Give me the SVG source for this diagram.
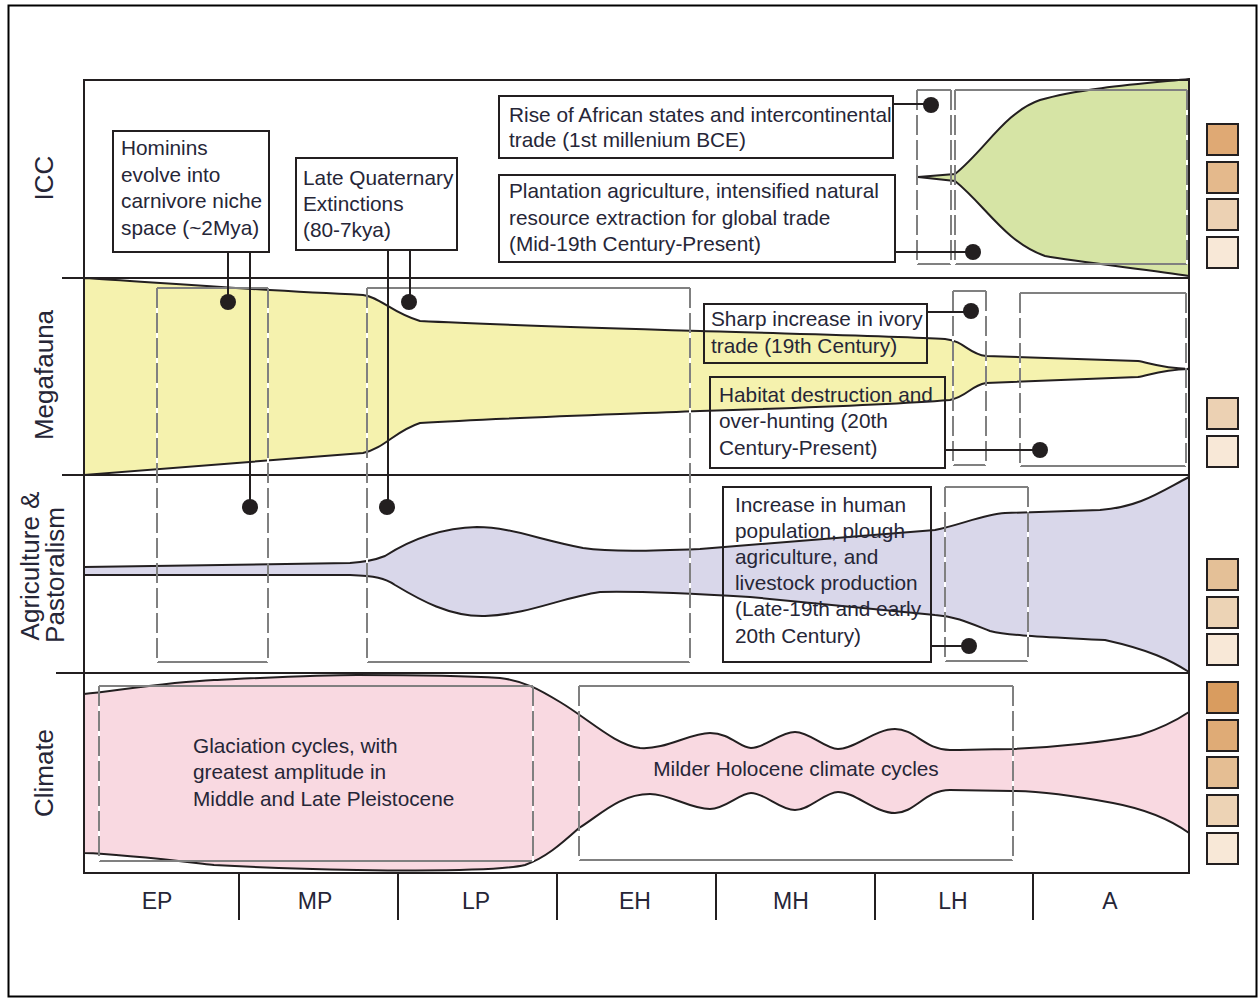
<svg xmlns="http://www.w3.org/2000/svg" width="1259" height="999" viewBox="0 0 1259 999">
<style>
.ax{stroke:#231f20;stroke-width:2;fill:none}
.shape{stroke:#231f20;stroke-width:2}
.bs{stroke:#808080;stroke-width:2;fill:none}
.bw{stroke:#ffffff;stroke-width:2;fill:none}
.bd{stroke:#808080;stroke-width:2;fill:none;stroke-dasharray:20 5}
.cb{fill:none;stroke:#231f20;stroke-width:2}
.cl{stroke:#231f20;stroke-width:2;fill:none}
.dot{fill:#231f20}
.sw{stroke:#231f20;stroke-width:2}
text{font-family:"Liberation Sans",Arial,sans-serif;fill:#262637}
.t{font-size:20.8px}
.rl{font-size:26px;text-anchor:middle}
.axl{font-size:23px;text-anchor:middle}
</style>
<rect x="0" y="0" width="1259" height="999" fill="#ffffff"/>
<rect x="8.5" y="5.5" width="1248" height="991" fill="none" stroke="#000" stroke-width="2"/>

<g id="shapes">
<path id="icc-shape" class="shape" fill="#d6e4a5" d="M918,177 L955,174 C985,150 1005,112 1040,100 C1080,88 1150,83 1189,79 L1189,276 C1150,270 1080,262 1045,256 C1005,242 985,205 955,181 Z"/>
<path id="mega-shape" class="shape" fill="#f5f2ae" d="M84,278 C150,282 250,290 363,295 C380,297 392,313 420,321 C500,325 600,328 700,331 C800,334 900,336 945,339 C965,341 968,354 986,356 L1138,361 C1150,363 1160,368 1189,369 C1160,370 1150,375 1138,377 L986,383 C970,386 968,396 950,400 C900,404 800,408 700,411 C600,415 500,418 420,423 C395,431 385,448 363,453 C250,462 150,470 84,475 Z"/>
<path id="agri-shape" class="shape" fill="#d9d7ea" d="M84,567 L350,563 C365,562 375,560 385,556 C410,540 440,528 477,527 C510,527 540,540 583,548 C610,552 650,551 700,549 L935,530 C960,525 985,514 1005,513 L1100,510 C1140,507 1160,492 1189,477 L1189,672 C1170,660 1150,650 1105,640 C1050,637 1010,636 990,631 C970,623 955,616 935,615 L750,597 C700,594 640,591 600,592 C560,598 530,614 485,616 C450,617 420,600 395,585 C385,578 375,576 350,575 L84,575 Z"/>
<path id="climate-shape" class="shape" fill="#f9d9e1" d="M84,694 C120,690 170,682 214,680 C280,677 320,675 357,675 C420,675 470,676 500,678 C525,681 540,690 560,702 C590,720 615,745 640,748 C665,750 690,733 710,733 C730,733 740,748 751,748 C765,748 780,732 795,732 C810,732 825,749 838,749 C855,749 875,729 895,729 C915,729 925,750 950,750 C980,750 1000,749 1012,749 C1060,747 1113,741 1140,735 C1165,727 1180,718 1189,712 L1189,833 C1175,823 1150,810 1113,803 C1070,795 1040,791 1012,791 L950,790 C925,790 915,813 895,813 C875,813 855,792 838,792 C825,792 810,810 795,810 C780,810 765,793 751,793 C740,793 725,809 710,809 C690,809 670,794 650,794 C620,794 600,815 579,828 C560,845 545,858 525,865 C500,871 420,871 357,870 C300,869 250,867 214,865 C170,860 120,854 84,853 Z"/>
</g>

<g id="frame">
<path class="ax" d="M84,80 H1189 V873 H84 Z"/>
<path class="ax" d="M62,278 H1189 M62,475 H1189 M56,673 H1189"/>
<path class="ax" d="M239,873 V920 M398,873 V920 M557,873 V920 M716,873 V920 M875,873 V920 M1033,873 V920"/>
</g>

<g id="dashed-boxes">
<g id="box-icc1"><path class="bs" d="M917,90 H951 M917,264 H951"/><path class="bw" d="M917,90 V264 M951,90 V264"/><path class="bd" d="M917,90 V264 M951,90 V264"/></g>
<g id="box-icc2"><path class="bs" d="M955,90 H1187 M955,264 H1187"/><path class="bw" d="M955,90 V264 M1187,90 V264"/><path class="bd" d="M955,90 V264 M1187,90 V264"/></g>
<g id="box-megA"><path class="bs" d="M157,288 H268 M157,662 H268"/><path class="bw" d="M157,288 V662 M268,288 V662"/><path class="bd" d="M157,288 V662 M268,288 V662"/></g>
<g id="box-megB"><path class="bs" d="M367,288 H690 M367,662 H690"/><path class="bw" d="M367,288 V662 M690,288 V662"/><path class="bd" d="M367,288 V662 M690,288 V662"/></g>
<g id="box-megC"><path class="bs" d="M953,291 H986 M953,465 H986"/><path class="bw" d="M953,291 V465 M986,291 V465"/><path class="bd" d="M953,291 V465 M986,291 V465"/></g>
<g id="box-megD"><path class="bs" d="M1020,293 H1186 M1020,466 H1186"/><path class="bw" d="M1020,293 V466 M1186,293 V466"/><path class="bd" d="M1020,293 V466 M1186,293 V466"/></g>
<g id="box-agriC"><path class="bs" d="M945,487 H1028 M945,661 H1028"/><path class="bw" d="M945,487 V661 M1028,487 V661"/><path class="bd" d="M945,487 V661 M1028,487 V661"/></g>
<g id="box-climE"><path class="bs" d="M99,686 H533 M99,861 H533"/><path class="bw" d="M99,686 V861 M533,686 V861"/><path class="bd" d="M99,686 V861 M533,686 V861"/></g>
<g id="box-climF"><path class="bs" d="M579,686 H1013 M579,860 H1013"/><path class="bw" d="M579,686 V860 M1013,686 V860"/><path class="bd" d="M579,686 V860 M1013,686 V860"/></g>
</g>

<g id="connectors">
<path class="cl" d="M228,252 V302 M250,252 V507 M388,250 V507 M410,250 V302 M893,104 H931 M895,252 H973 M927,312 H971 M945,450 H1040 M931,646 H969"/>
<circle class="dot" cx="228" cy="302" r="8"/>
<circle class="dot" cx="250" cy="507" r="8"/>
<circle class="dot" cx="387" cy="507" r="8"/>
<circle class="dot" cx="409" cy="302" r="8"/>
<circle class="dot" cx="931" cy="105" r="8"/>
<circle class="dot" cx="973" cy="252" r="8"/>
<circle class="dot" cx="971" cy="311" r="8"/>
<circle class="dot" cx="1040" cy="450" r="8"/>
<circle class="dot" cx="969" cy="646" r="8"/>
</g>

<g id="node-hominins"><rect class="cb" x="113" y="131" width="156" height="121"/>
<text class="t" x="121" y="155">Hominins</text><text class="t" x="121" y="181.5">evolve into</text><text class="t" x="121" y="208">carnivore niche</text><text class="t" x="121" y="234.5">space (~2Mya)</text></g>

<g id="node-lqe"><rect class="cb" x="296" y="158" width="161" height="92"/>
<text class="t" x="303" y="185">Late Quaternary</text><text class="t" x="303" y="211">Extinctions</text><text class="t" x="303" y="237">(80-7kya)</text></g>

<g id="node-rise"><rect class="cb" x="499" y="96" width="394" height="62"/>
<text class="t" x="509" y="122">Rise of African states and intercontinental</text><text class="t" x="509" y="147">trade (1st millenium BCE)</text></g>

<g id="node-plantation"><rect class="cb" x="499" y="175" width="396" height="87"/>
<text class="t" x="509" y="198">Plantation agriculture, intensified natural</text><text class="t" x="509" y="224.5">resource extraction for global trade</text><text class="t" x="509" y="251">(Mid-19th Century-Present)</text></g>

<g id="node-ivory"><rect class="cb" x="704" y="304" width="223" height="59"/>
<text class="t" x="711" y="326">Sharp increase in ivory</text><text class="t" x="711" y="353">trade (19th Century)</text></g>

<g id="node-habitat"><rect class="cb" x="710" y="377" width="235" height="91"/>
<text class="t" x="719" y="402">Habitat destruction and</text><text class="t" x="719" y="428">over-hunting (20th</text><text class="t" x="719" y="455">Century-Present)</text></g>

<g id="node-population"><rect class="cb" x="723" y="487" width="208" height="175"/>
<text class="t" x="735" y="512">Increase in human</text><text class="t" x="735" y="538">population, plough</text><text class="t" x="735" y="564">agriculture, and</text><text class="t" x="735" y="590">livestock production</text><text class="t" x="735" y="616">(Late-19th and early</text><text class="t" x="735" y="643">20th Century)</text></g>

<g id="node-glaciation">
<text class="t" x="193" y="753">Glaciation cycles, with</text><text class="t" x="193" y="779">greatest amplitude in</text><text class="t" x="193" y="806">Middle and Late Pleistocene</text></g>

<g id="node-milder"><text class="t" x="796" y="776" text-anchor="middle">Milder Holocene climate cycles</text></g>

<g id="row-labels">
<text class="rl" transform="translate(53,178) rotate(-90)">ICC</text>
<text class="rl" transform="translate(53,375) rotate(-90)">Megafauna</text>
<text class="rl" transform="translate(39,566) rotate(-90)">Agriculture &amp;</text>
<text class="rl" transform="translate(64,575) rotate(-90)">Pastoralism</text>
<text class="rl" transform="translate(53,773) rotate(-90)">Climate</text>
</g>

<g id="axis-labels">
<text class="axl" x="157" y="909">EP</text>
<text class="axl" x="315" y="909">MP</text>
<text class="axl" x="476" y="909">LP</text>
<text class="axl" x="635" y="909">EH</text>
<text class="axl" x="791" y="909">MH</text>
<text class="axl" x="953" y="909">LH</text>
<text class="axl" x="1110" y="909">A</text>
</g>

<g id="swatches">
<rect class="sw" x="1207" y="124" width="31" height="31" fill="#dfa974"/>
<rect class="sw" x="1207" y="162" width="31" height="31" fill="#e4b98c"/>
<rect class="sw" x="1207" y="199" width="31" height="31" fill="#ecd1b3"/>
<rect class="sw" x="1207" y="237" width="31" height="31" fill="#f8e8d7"/>
<rect class="sw" x="1207" y="398" width="31" height="31" fill="#ecd1b3"/>
<rect class="sw" x="1207" y="436" width="31" height="31" fill="#f8e8d7"/>
<rect class="sw" x="1207" y="559" width="31" height="31" fill="#e4c097"/>
<rect class="sw" x="1207" y="597" width="31" height="31" fill="#ecd3b5"/>
<rect class="sw" x="1207" y="634" width="31" height="31" fill="#f8e8d7"/>
<rect class="sw" x="1207" y="682" width="31" height="31" fill="#d99c5f"/>
<rect class="sw" x="1207" y="720" width="31" height="31" fill="#dfab76"/>
<rect class="sw" x="1207" y="757" width="31" height="31" fill="#e5be93"/>
<rect class="sw" x="1207" y="795" width="31" height="31" fill="#edd3b5"/>
<rect class="sw" x="1207" y="833" width="31" height="31" fill="#f8e8d7"/>
</g>
</svg>
